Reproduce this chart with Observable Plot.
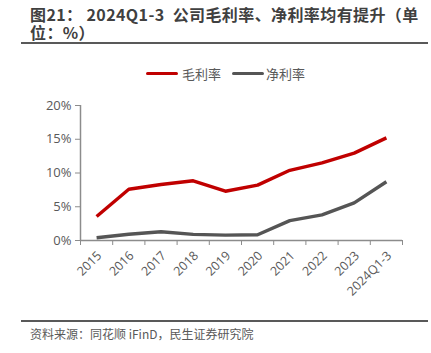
<!DOCTYPE html>
<html><head><meta charset="utf-8">
<script src="https://cdn.jsdelivr.net/npm/d3@7"></script>
<script src="https://cdn.jsdelivr.net/npm/@observablehq/plot@0.6"></script>
<style>
body{margin:0;background:#fff;font-family:"Open Sans","Noto Sans CJK SC",sans-serif;}
#wrap{position:relative;width:431px;height:353px;overflow:hidden;}
.title{position:absolute;left:30px;top:5px;font-family:"Noto Sans CJK SC",sans-serif;font-weight:bold;font-size:16px;line-height:18px;letter-spacing:0.4px;color:#404040;white-space:pre;}
.hr{position:absolute;left:21px;width:407px;background:#595959;}
#legend{position:absolute;top:64px;left:146px;display:flex;align-items:center;font-family:"Noto Sans CJK SC",sans-serif;font-size:13px;color:#595959;}
.sw{display:inline-block;width:32px;height:3px;border-radius:2px;margin-right:4px;}
#chart{position:absolute;left:0;top:88px;}
#source{position:absolute;left:30px;top:325px;font-family:"Noto Sans CJK SC",sans-serif;font-size:12px;color:#595959;}
</style></head>
<body><div id="wrap">
<div class="title">图21： 2024Q1-3  公司毛利率、净利率均有提升（单<br>位：%）</div>
<div class="hr" style="top:42px;height:2px;"></div>
<div id="legend"><span class="sw" style="background:#c00000"></span><span>毛利率</span><span style="width:11px"></span><span class="sw" style="background:#555555;margin-right:2px"></span><span>净利率</span></div>
<div id="chart"></div>
<div class="hr" style="top:320px;height:1.5px;"></div>
<div id="source">资料来源：同花顺 iFinD，民生证券研究院</div>
</div>
<script>
const categories = ["2015","2016","2017","2018","2019","2020","2021","2022","2023","2024Q1-3"];
const grossMargin = [3.55, 7.6, 8.3, 8.85, 7.3, 8.2, 10.4, 11.5, 12.95, 15.2];
const netMargin = [0.4, 0.93, 1.3, 0.9, 0.8, 0.85, 2.95, 3.8, 5.57, 8.7];
const yTicks = [0, 5, 10, 15, 20];
const seriesNames = ["毛利率", "净利率"];

const rows = [];
categories.forEach((c, i) => {
  rows.push({i, cat: c, v: grossMargin[i], s: seriesNames[0]});
  rows.push({i, cat: c, v: netMargin[i], s: seriesNames[1]});
});
const n = categories.length;
const bounds = d3.range(n + 1).map(k => k - 0.5);
const axisColor = "#8c8c8c";

const chart = Plot.plot({
  width: 431,
  height: 228,
  marginLeft: 80,
  marginRight: 29,
  marginTop: 17,
  marginBottom: 76,
  style: {fontFamily: '"Open Sans","Noto Sans CJK SC",sans-serif', fontSize: "12.5px", color: "#595959", background: "transparent"},
  x: {type: "linear", domain: [-0.5, n - 0.5]},
  y: {domain: [0, 20]},
  color: {domain: seriesNames, range: ["#c00000", "#555555"]},
  marks: [
    Plot.axisY({ticks: yTicks, tickFormat: d => d + "%", tickSize: 5, tickPadding: 4, stroke: axisColor, label: null, fontSize: 13}),
    Plot.axisX({ticks: bounds, tickSize: 5, tickFormat: () => "", stroke: axisColor, label: null}),
    Plot.axisX({ticks: d3.range(n), tickSize: 0, tickFormat: d => categories[d], tickRotate: -45, tickPadding: 13, label: null, fontSize: 12.5, dx: 3}),
    Plot.ruleX([-0.5], {y1: 0, y2: 20, stroke: axisColor, strokeWidth: 1.5}),
    Plot.ruleY([0], {x1: -0.5, x2: n - 0.5, stroke: axisColor, strokeWidth: 1.5}),
    Plot.line(rows, {x: "i", y: "v", z: "s", stroke: "s", strokeWidth: 3.4, strokeLinejoin: "round", strokeLinecap: "butt"})
  ]
});
document.getElementById("chart").appendChild(chart);
</script>
</body></html>
